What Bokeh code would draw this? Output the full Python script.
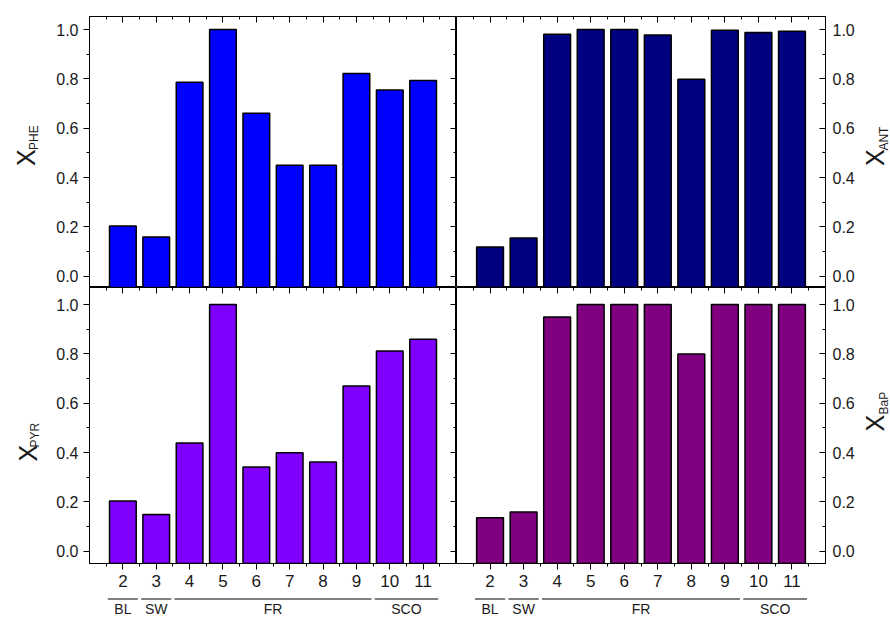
import math
from bokeh.plotting import figure
from bokeh.models import (Range1d, LinearAxis, FixedTicker, SingleIntervalTicker,
                          PrintfTickFormatter)
from bokeh.core.properties import value
from bokeh.layouts import gridplot
from bokeh.embed import file_html
from bokeh.resources import INLINE

# ---------------- data ----------------
sites = [2, 3, 4, 5, 6, 7, 8, 9, 10, 11]
x_phe = [0.203, 0.159, 0.786, 1.0, 0.661, 0.45, 0.45, 0.822, 0.755, 0.793]
x_ant = [0.118, 0.155, 0.981, 1.0, 1.0, 0.978, 0.799, 0.997, 0.988, 0.993]
x_pyr = [0.203, 0.149, 0.439, 1.0, 0.341, 0.399, 0.362, 0.670, 0.812, 0.859]
x_bap = [0.135, 0.159, 0.949, 1.0, 1.0, 1.0, 0.799, 1.0, 1.0, 1.0]
group_names = ["BL", "SW", "FR", "SCO"]
group_members = [[2], [3], [4, 5, 6, 7, 8, 9], [10, 11]]

FONT = "Liberation Sans"
TXT = "#1a1a1a"

TOP_R = (-0.046, 1.053)
BOT_R = (-0.05, 1.069)
LW, RW = 367, 369          # frame widths
TH, BH = 271, 276          # frame heights
LB = 40                    # left border of left panels (tick labels)
RB = 34                    # right border of right panels (tick labels)
TOPB = 16
BOTB = 30
LSW, RSW, GSH = 49, 30, 25  # label strip sizes


def x_axis(labels, tick_in, tick_out):
    ax = LinearAxis(ticker=FixedTicker(ticks=sites,
                                       minor_ticks=[s - 0.5 for s in sites] + [sites[-1] + 0.5]))
    ax.major_tick_in = tick_in
    ax.major_tick_out = tick_out
    ax.minor_tick_in = 3 if tick_in else 0
    ax.minor_tick_out = 3 if tick_out else 0
    ax.axis_line_color = "black"
    ax.major_tick_line_color = "black"
    ax.minor_tick_line_color = "black"
    if labels:
        ax.major_label_text_font = FONT
        ax.major_label_text_font_size = "17px"
        ax.major_label_text_color = TXT
        ax.major_label_standoff = 5
    else:
        ax.major_label_text_font_size = "0px"
        ax.major_label_text_color = None
        ax.major_label_standoff = 0
    return ax


def y_axis(labels, tick_in, tick_out, standoff=5):
    ax = LinearAxis(ticker=SingleIntervalTicker(interval=0.2, num_minor_ticks=2),
                    formatter=PrintfTickFormatter(format="%.1f"))
    ax.major_tick_in = tick_in
    ax.major_tick_out = tick_out
    ax.minor_tick_in = 3 if tick_in else 0
    ax.minor_tick_out = 3 if tick_out else 0
    ax.axis_line_color = "black"
    ax.major_tick_line_color = "black"
    ax.minor_tick_line_color = "black"
    if labels:
        ax.major_label_text_font = FONT
        ax.major_label_text_font_size = "16px"
        ax.major_label_text_color = TXT
        ax.major_label_standoff = standoff
    else:
        ax.major_label_text_font_size = "0px"
        ax.major_label_text_color = None
        ax.major_label_standoff = 0
    return ax


def blank(fw, fh, xr, yr, left=0, right=0, top=0, bottom=0):
    p = figure(frame_width=fw, frame_height=fh, output_backend="svg", toolbar_location=None,
               x_range=Range1d(*xr), y_range=Range1d(*yr),
               x_axis_location=None, y_axis_location=None,
               min_border_left=left, min_border_right=right,
               min_border_top=top, min_border_bottom=bottom)
    p.xgrid.visible = False
    p.ygrid.visible = False
    p.outline_line_color = None
    p.background_fill_color = "white"
    p.border_fill_color = "white"
    return p


def panel(values, color, fw, fh, yr, left, right, top, bottom):
    p = blank(fw, fh, (1, 12), yr, left, right, top, bottom)
    p.outline_line_color = "black"
    p.outline_line_width = 1
    p.vbar(x=sites, top=values, bottom=yr[0] - 0.2, width=0.8,
           fill_color=color, line_color="black", line_width=1.5)
    return p


def ylabel(p, mx, my, sub, sx, sy):
    p.text(x=[mx], y=[my], text=["X"], angle=math.pi / 2, text_align="center",
           text_baseline="middle", text_font=value(FONT), text_font_size="25px",
           text_color=TXT)
    p.text(x=[sx], y=[sy], text=[sub], angle=math.pi / 2, text_align="center",
           text_baseline="middle", text_font=value(FONT), text_font_size="12px",
           text_color=TXT)


def group_strip(left):
    g = blank(LW if left else RW, GSH, (1, 12), (0, GSH),
              left=LB if left else 0, right=0 if left else RB)
    starts = [min(m) - 0.45 for m in group_members]
    ends = [max(m) + 0.45 for m in group_members]
    centers = [(min(m) + max(m)) / 2 for m in group_members]
    g.segment(x0=starts, x1=ends, y0=[GSH - 5.5] * 4, y1=[GSH - 5.5] * 4,
              line_color="#555555", line_width=1.5)
    g.text(x=centers, y=[9.5] * 4, text=group_names, text_align="center",
           text_baseline="middle", text_font=value(FONT), text_font_size="14px",
           text_color=TXT)
    return g


# ---------------- panels ----------------
tl = panel(x_phe, "#0000FF", LW, TH, TOP_R, LB, 0, TOPB, 0)
tl.add_layout(y_axis(True, 0, 6), "left")
tl.add_layout(x_axis(False, 6, 0), "above")
tl.add_layout(y_axis(False, 6, 0), "right")

tr = panel(x_ant, "#000080", RW, TH, TOP_R, 0, RB, TOPB, 0)
tr.add_layout(x_axis(False, 6, 0), "above")
tr.add_layout(y_axis(True, 6, 0, standoff=7), "right")

bl = panel(x_pyr, "#8000FF", LW, BH, BOT_R, LB, 0, 0, BOTB)
bl.add_layout(y_axis(True, 0, 6), "left")
bl.add_layout(x_axis(False, 6, 0), "above")
bl.add_layout(y_axis(False, 6, 0), "right")
bl.add_layout(x_axis(True, 0, 6), "below")

br = panel(x_bap, "#800080", RW, BH, BOT_R, 0, RB, 0, BOTB)
br.add_layout(x_axis(False, 6, 0), "above")
br.add_layout(y_axis(True, 6, 0, standoff=7), "right")
br.add_layout(x_axis(True, 0, 6), "below")

# ---------------- label strips ----------------
ls_top = blank(LSW, TH, (0, LSW), TOP_R, top=TOPB)
ylabel(ls_top, 25, 0.481, "PHE", 33, 0.562)
ls_bot = blank(LSW, BH, (0, LSW), BOT_R, bottom=BOTB)
ylabel(ls_bot, 27, 0.397, "PYR", 34, 0.470)
rs_top = blank(RSW, TH, (0, RSW), TOP_R, top=TOPB)
ylabel(rs_top, 15, 0.481, "ANT", 24, 0.558)
rs_bot = blank(RSW, BH, (0, RSW), BOT_R, bottom=BOTB)
ylabel(rs_bot, 15, 0.519, "BaP", 24, 0.60)

gs_l = group_strip(True)
gs_r = group_strip(False)

grid = gridplot([[ls_top, tl, tr, rs_top],
                 [ls_bot, bl, br, rs_bot],
                 [None, gs_l, gs_r, None]], toolbar_location=None)

open("out.html", "w").write(file_html(grid, INLINE))
